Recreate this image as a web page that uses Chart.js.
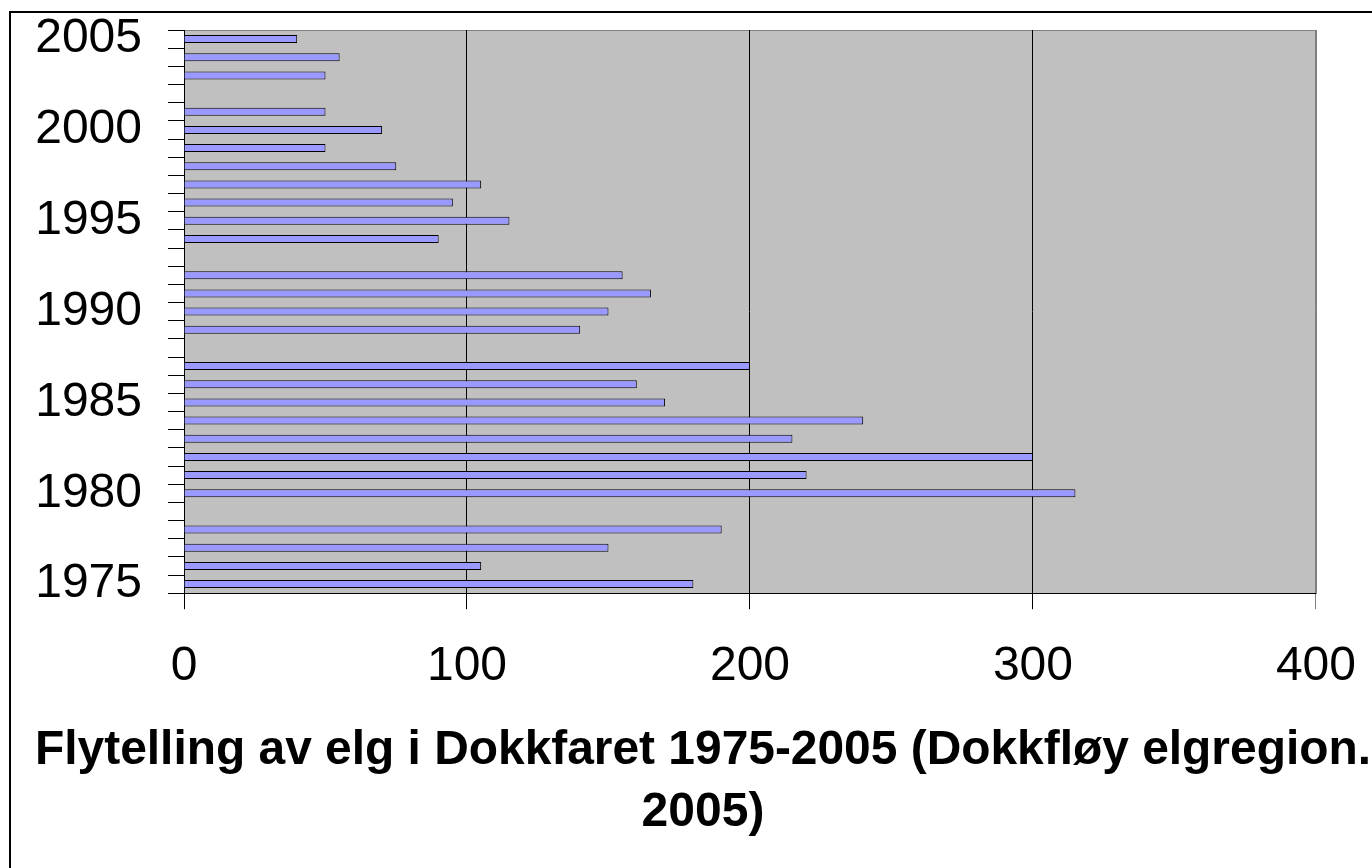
<!DOCTYPE html>
<html>
<head>
<meta charset="utf-8">
<script src="https://cdn.jsdelivr.net/npm/chart.js@4"></script>
<style>
  html, body { margin: 0; padding: 0; background: #fff; overflow: hidden; }
  body { width: 1372px; height: 868px; position: relative; }
  #frame {
    position: absolute; left: 9px; top: 11px;
    width: 2000px; height: 2000px;
    border: 2px solid #000; pointer-events: none;
  }
  #chart { position: absolute; left: 35px; top: -30px; }
</style>
</head>
<body>
<div id="frame"></div>
<canvas id="chart" width="1350" height="884"></canvas>
<script>
  // Årstall (kategorier), 1975-2005
  const years = [
    '1975', '1976', '1977', '1978', '1979', '1980', '1981', '1982', '1983', '1984',
    '1985', '1986', '1987', '1988', '1989', '1990', '1991', '1992', '1993', '1994',
    '1995', '1996', '1997', '1998', '1999', '2000', '2001', '2002', '2003', '2004', '2005'
  ];

  // Antall elg fra flytelling (null = ingen telling)
  const elgCount = [
    180, 105, 150, 190, null, 315, 220, 300, 215, 240,
    170, 160, 200, null, 140, 150, 165, 155, null, 90,
    115, 95, 105, 75, 50, 70, 50, null, 50, 55, 40
  ];

  // Årstall som vises på aksen
  const yearTicks = ['1975', '1980', '1985', '1990', '1995', '2000', '2005'];

  // Verdiakse
  const xMin = 0;
  const xMax = 400;
  const xStep = 100;

  const titleLines = [
    'Flytelling av elg i Dokkfaret 1975-2005 (Dokkfløy elgregion.',
    '2005)'
  ];

  // grå bakgrunn + ramme rundt plottområdet
  const plotArea = {
    id: 'plotArea',
    beforeDraw(chart) {
      const { ctx, chartArea: a } = chart;
      ctx.save();
      ctx.fillStyle = '#C0C0C0';
      ctx.fillRect(a.left, a.top, a.right - a.left, a.bottom - a.top);
      ctx.strokeStyle = '#808080';
      ctx.lineWidth = 1;
      ctx.strokeRect(Math.round(a.left) + 0.5, Math.round(a.top) + 0.5,
        Math.round(a.right - a.left), Math.round(a.bottom - a.top));
      ctx.restore();
    }
  };

  const font = "'Liberation Sans', Arial, sans-serif";

  new Chart(document.getElementById('chart'), {
    type: 'bar',
    data: {
      labels: years,
      datasets: [{
        data: elgCount,
        backgroundColor: '#9999FF',
        borderColor: '#000000',
        borderWidth: 1,
        categoryPercentage: 1,
        barPercentage: 0.44
      }]
    },
    options: {
      indexAxis: 'y',
      responsive: false,
      animation: false,
      devicePixelRatio: 1,
      layout: { padding: { left: 0, right: 14, top: 60, bottom: 0 } },
      plugins: {
        legend: { display: false },
        tooltip: { enabled: false },
        title: {
          display: true,
          position: 'bottom',
          text: titleLines,
          color: '#000',
          font: { family: font, size: 48, weight: 'bold', lineHeight: 1.3 },
          padding: { top: 23, bottom: 10 }
        }
      },
      scales: {
        x: {
          min: xMin,
          max: xMax,
          afterFit: scale => { scale.height = 103; },
          ticks: {
            stepSize: xStep,
            color: '#000',
            padding: 29,
            font: { family: font, size: 48 }
          },
          grid: {
            color: ctx => (ctx.tick && ctx.tick.value === xMax) ? '#808080' : '#000',
            tickLength: 16,
            lineWidth: 1
          },
          border: { color: '#000', width: 1 }
        },
        y: {
          reverse: true,
          afterFit: scale => { scale.width = 149; },
          ticks: {
            autoSkip: false,
            color: '#000',
            padding: 26,
            font: { family: font, size: 48 },
            callback: function(value, index) {
              const label = years[index];
              return yearTicks.includes(label) ? label : '';
            }
          },
          grid: {
            offset: true,
            drawOnChartArea: false,
            tickLength: 16,
            color: '#000',
            lineWidth: 1
          },
          border: { color: '#000', width: 1 }
        }
      }
    },
    plugins: [plotArea]
  });
</script>
</body>
</html>
